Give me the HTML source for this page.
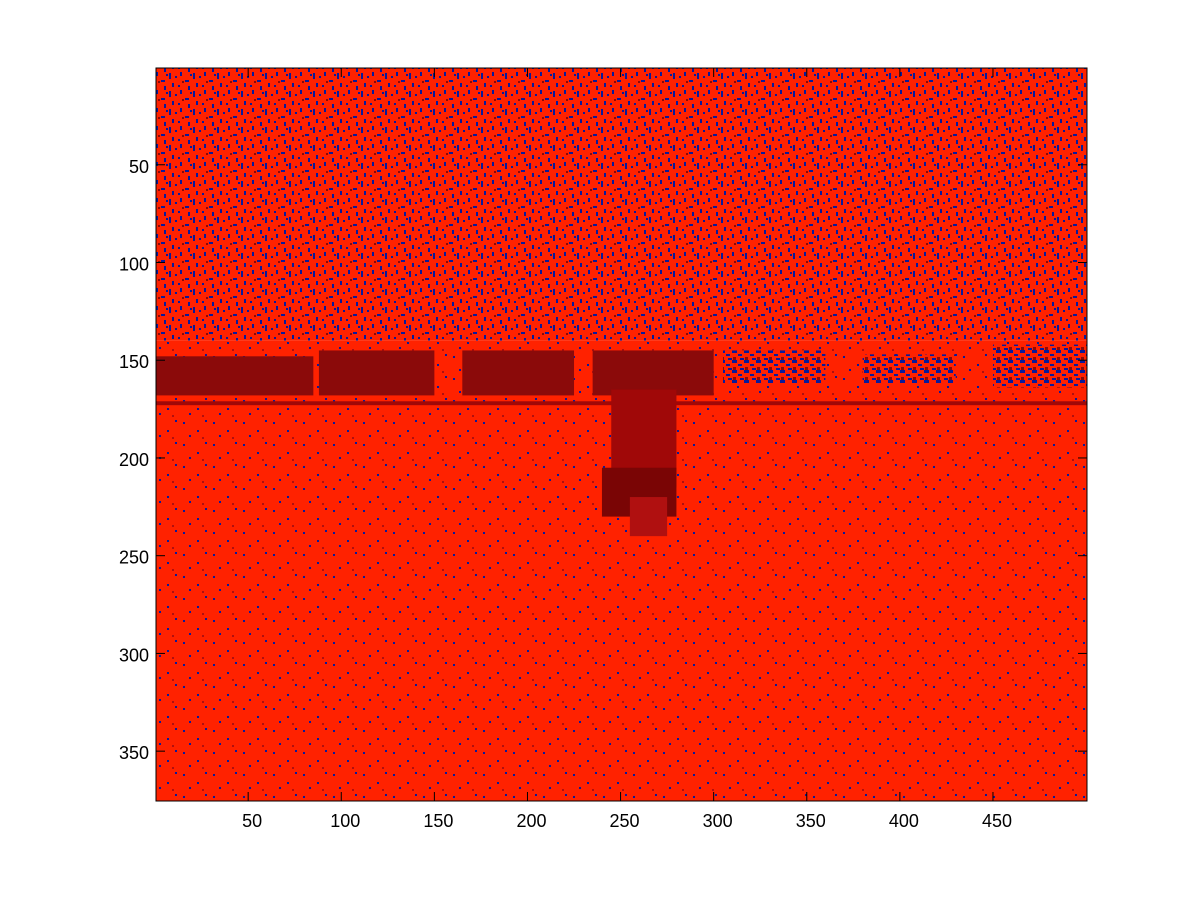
<!DOCTYPE html>
<html><head><meta charset="utf-8"><style>
html,body{margin:0;padding:0;background:#fff;width:1201px;height:901px;overflow:hidden}
svg text{font-family:"Liberation Sans",sans-serif;font-size:18px;fill:#000}
</style></head><body>
<svg id="fig" width="1201" height="901">
<defs>
<pattern id="dense" width="24" height="18" patternUnits="userSpaceOnUse">
<rect width="24" height="18" fill="#ff2200"/>
<rect x="1" y="1" width="2" height="6" fill="#0a1a9a"/><rect x="7" y="4" width="2" height="2" fill="#0a1a9a"/>
<rect x="12" y="0" width="2" height="4" fill="#0a1a9a"/><rect x="17" y="8" width="4" height="2" fill="#0a1a9a"/>
<rect x="4" y="11" width="2" height="4" fill="#0a1a9a"/><rect x="10" y="13" width="2" height="2" fill="#0a1a9a"/>
<rect x="20" y="14" width="2" height="4" fill="#0a1a9a"/><rect x="14" y="9" width="2" height="2" fill="#8a0a0a"/>
<rect x="22" y="2" width="2" height="2" fill="#0a1a9a"/>
</pattern>
<pattern id="bandblue" width="12" height="10" patternUnits="userSpaceOnUse">
<rect width="12" height="10" fill="#ff2200"/>
<rect x="0" y="0" width="5" height="3" fill="#0a1a9a"/><rect x="6" y="4" width="4" height="2" fill="#0a1a9a"/>
<rect x="1" y="7" width="3" height="3" fill="#8a0a0a"/><rect x="8" y="8" width="4" height="2" fill="#0a1a9a"/>
</pattern>
<pattern id="sparse" width="30" height="22" patternUnits="userSpaceOnUse">
<rect width="30" height="22" fill="#ff2200"/>
<rect x="3" y="4" width="2" height="2" fill="#0a1a9a"/><rect x="17" y="12" width="2" height="2" fill="#0a1a9a"/>
<rect x="25" y="2" width="2" height="2" fill="#0a1a9a"/><rect x="9" y="17" width="2" height="2" fill="#0a1a9a"/>
<rect x="22" y="19" width="2" height="2" fill="#b01010"/>
</pattern>
</defs>
<g id="img"></g>
<g id="axes"></g>
</svg>
<script>
const xTicks=[50,100,150,200,250,300,350,400,450];
const yTicks=[50,100,150,200,250,300,350];
// regions: [x0,x1,y0,y1]
const regionX0=[0.5,0.5,0.5,88,165,235,305,380,450,245,240,0.5,255];
const regionX1=[500.5,500.5,85,150,225,300,360,430,500.5,280,280,500.5,275];
const regionY0=[0.5,140,148,145,145,145,145,147,142,165,205,171,220];
const regionY1=[140,375.5,168,168,168,168,162,162,164,215,230,173,240];
const regionFill=['url(#dense)','url(#sparse)','#8b0a0a','#8b0a0a','#8b0a0a','#8b0a0a','url(#bandblue)','url(#bandblue)','url(#bandblue)','#a00808','#7a0505','#a00808','#b01010'];
const L=156,R=1087,T=68,B=801;
const sx=v=>L+(v-0.5)/500*(R-L), sy=v=>T+(v-0.5)/375*(B-T);
const NS='http://www.w3.org/2000/svg';
const img=document.getElementById('img'), ax=document.getElementById('axes');
function mk(tag,at,parent){const e=document.createElementNS(NS,tag);for(const k in at)e.setAttribute(k,at[k]);parent.appendChild(e);return e;}
regionX0.forEach((x0,i)=>{
 const r=mk('rect',{x:sx(x0),y:sy(regionY0[i]),width:sx(regionX1[i])-sx(x0),height:sy(regionY1[i])-sy(regionY0[i]),fill:regionFill[i]},img);
 
 
});
const box=mk('rect',{x:L,y:T,width:R-L,height:B-T,fill:'none',stroke:'#000','stroke-width':1},ax);


xTicks.forEach(v=>{
 const x=sx(v);
 mk('line',{x1:x,x2:x,y1:B,y2:B-9,stroke:'#000'},ax);
 mk('line',{x1:x,x2:x,y1:T,y2:T+9,stroke:'#000'},ax);
 const t=mk('text',{x:x+4,y:B+26,'text-anchor':'middle'},ax);t.textContent=v;
 
 
});
yTicks.forEach(v=>{
 const y=sy(v);
 mk('line',{x1:L,x2:L+9,y1:y,y2:y,stroke:'#000'},ax);
 mk('line',{x1:R,x2:R-9,y1:y,y2:y,stroke:'#000'},ax);
 const t=mk('text',{x:L-7,y:y+8,'text-anchor':'end'},ax);t.textContent=v;
 
 
});
</script>
</body></html>
